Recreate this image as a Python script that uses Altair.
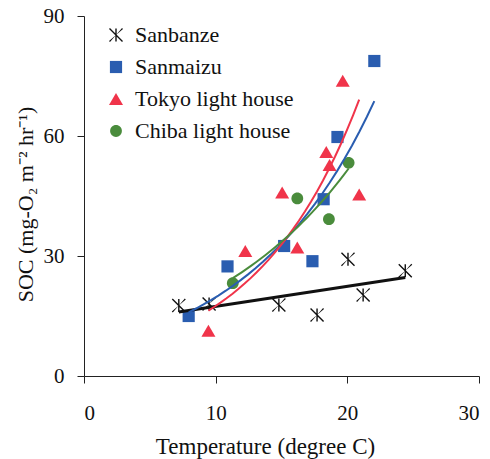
import altair as alt
import pandas as pd

# Sediment oxygen consumption vs. water temperature at four sites
sites = ["Sanbanze", "Sanmaizu", "Tokyo light house", "Chiba light house"]
site_colors = ["#111111", "#2a5db0", "#f0344a", "#4a8c3c"]

sanbanze_temp = [7.2, 9.5, 14.8, 17.7, 20.05, 21.2, 24.4]
sanbanze_soc = [17.6, 18.0, 17.75, 15.25, 29.2, 20.25, 26.3]

sanmaizu_temp = [7.95, 10.9, 15.2, 17.35, 18.2, 19.25, 22.05]
sanmaizu_soc = [15.0, 27.4, 32.5, 28.7, 44.2, 59.75, 78.75]

tokyo_temp = [9.45, 12.25, 15.05, 16.2, 18.4, 18.65, 19.65, 20.9]
tokyo_soc = [11.3, 31.25, 45.9, 32.1, 56.0, 52.75, 73.8, 45.4]

chiba_temp = [11.3, 16.2, 18.6, 20.1]
chiba_soc = [23.2, 44.4, 39.2, 53.3]

x_ticks = [0, 10, 20, 30]
y_ticks = [0, 30, 60, 90]

# Marker outlines in unit coordinates (scaled by sqrt(size)/2)
asterisk = (
    "M-0.1,-0.93L0.1,-0.93L0.1,0.93L-0.1,0.93Z"
    "M-0.86,-1L1,0.86L0.86,1L-1,-0.86Z"
    "M-0.86,1L-1,0.86L1,-0.86L0.86,-1Z"
)
square = "M-0.87,-0.87L0.87,-0.87L0.87,0.87L-0.87,0.87Z"
triangle = "M0,-0.86L1,0.86L-1,0.86Z"
circle = "M0,-0.84A0.84,0.84 0 1,1 0,0.84A0.84,0.84 0 1,1 0,-0.84Z"
site_shapes = [asterisk, square, triangle, circle]

rows = []
for name, xs, ys in [
    (sites[0], sanbanze_temp, sanbanze_soc),
    (sites[1], sanmaizu_temp, sanmaizu_soc),
    (sites[2], tokyo_temp, tokyo_soc),
    (sites[3], chiba_temp, chiba_soc),
]:
    for t, s in zip(xs, ys):
        rows.append({"site": name, "temp": t, "soc": s})
df = pd.DataFrame(rows)

FONT = "Liberation Serif"

x_enc = alt.X(
    "temp:Q",
    scale=alt.Scale(domain=[0, 30], nice=False),
    axis=alt.Axis(
        values=x_ticks,
        title="Temperature (degree C)",
        titleX=181,
        titleY=77,
        titleAlign="center",
        titleBaseline="alphabetic",
        titleFontSize=23,
        labelPadding=19,
    ),
)
y_enc = alt.Y(
    "soc:Q",
    scale=alt.Scale(domain=[0, 90], nice=False),
    axis=alt.Axis(
        values=y_ticks,
        title="SOC (mg-O₂ m⁻² hr⁻¹)",
        titleAngle=270,
        titleX=-52,
        titleY=188,
        titleAlign="center",
        titleBaseline="alphabetic",
        labelPadding=13,
    ),
)

legend_style = dict(
    title=None,
    orient="none",
    legendX=21,
    legendY=8,
    labelFont=FONT,
    labelFontSize=22,
    labelColor="#111111",
    symbolSize=196,
    symbolStrokeWidth=0,
    rowPadding=10,
    labelOffset=8,
    padding=0,
)

base = alt.Chart(df)

points = base.mark_point(filled=True, opacity=1, size=196).encode(
    x=x_enc,
    y=y_enc,
    color=alt.Color(
        "site:N",
        scale=alt.Scale(domain=sites, range=site_colors),
        legend=alt.Legend(**legend_style),
    ),
    shape=alt.Shape(
        "site:N",
        scale=alt.Scale(domain=sites, range=site_shapes),
        legend=alt.Legend(**legend_style),
    ),
)

# Linear trend for Sanbanze
linear_fit = (
    base.transform_filter(alt.datum.site == "Sanbanze")
    .transform_regression("temp", "soc")
    .mark_line(color="#111111", strokeWidth=3)
    .encode(x="temp:Q", y="soc:Q")
)

# Exponential trends (least squares on log SOC) for the other sites
exp_fit = (
    base.transform_filter(alt.datum.site != "Sanbanze")
    .transform_calculate(lnsoc="log(datum.soc)")
    .transform_regression("temp", "lnsoc", groupby=["site"], method="poly", order=1)
    .transform_calculate(fit="exp(datum.lnsoc)")
    .mark_line(strokeWidth=2)
    .encode(
        x="temp:Q",
        y="fit:Q",
        stroke=alt.Stroke(
            "site:N",
            scale=alt.Scale(domain=sites, range=site_colors),
            legend=None,
        ),
    )
)

chart = (
    alt.layer(points, linear_fit, exp_fit)
    .properties(
        width=395,
        height=360,
        autosize=alt.AutoSizeParams(type="none"),
        padding={"left": 84, "top": 16, "right": 11, "bottom": 83},
        background="white",
    )
    .configure_view(stroke=None)
    .configure_axis(
        grid=False,
        domainColor="#222222",
        domainWidth=1,
        tickColor="#222222",
        tickWidth=1,
        tickSize=7,
        labelFont=FONT,
        labelFontSize=21,
        labelColor="#111111",
        titleFont=FONT,
        titleFontSize=22,
        titleFontWeight="normal",
        titleColor="#111111",
    )
)

chart.save("out.html", embed_options={"renderer": "svg", "actions": False})
